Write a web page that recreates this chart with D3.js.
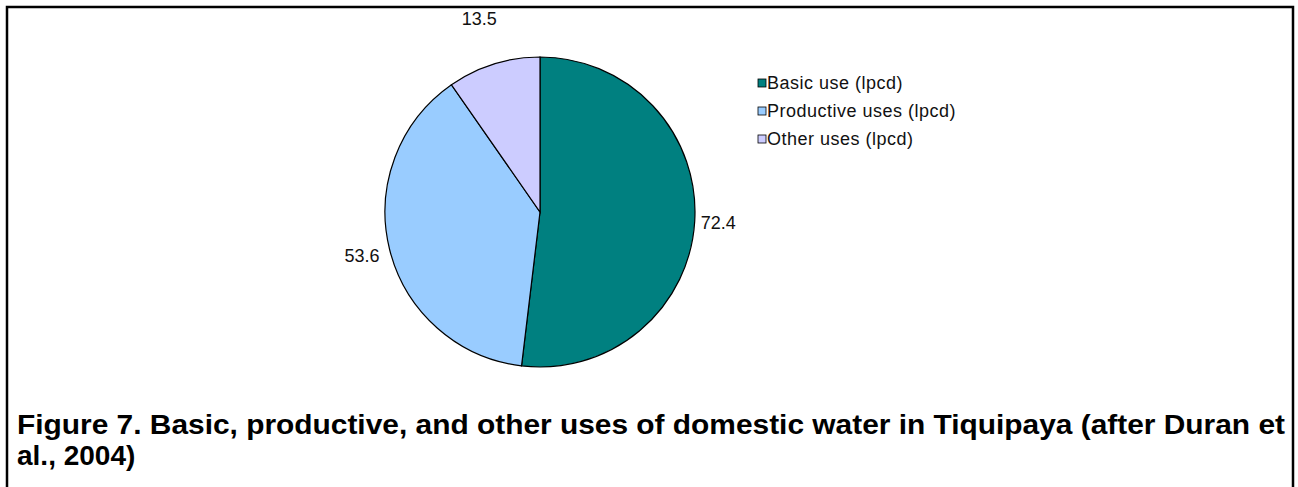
<!DOCTYPE html>
<html lang="en">
<head>
<meta charset="UTF-8">
<title>Figure 7 | Tiquipaya water uses</title>
<style>
  body { margin: 0; background: #fff; font-family: 'Liberation Sans', Arial, sans-serif; }
  svg { display: block; }
</style>
</head>
<body>
<div id="chart"></div>
<script src="https://cdn.jsdelivr.net/npm/d3@7"></script>
<script>
// data
var categories = ['Basic use (lpcd)', 'Productive uses (lpcd)', 'Other uses (lpcd)'];
var values = [72.4, 53.6, 13.5];
var colors = ['#008080', '#99ccff', '#ccccff'];
var captionLines = [
  'Figure 7. Basic, productive, and other uses of domestic water in Tiquipaya (after Duran et',
  'al., 2004)'
];

var w = 1298, h = 487;
var cx = 540, cy = 212, r = 155;

var svg = d3.select('#chart').append('svg').attr('width', w).attr('height', h);

// outer frame (open at the bottom, like the page crop)
svg.append('path')
  .attr('d', 'M7,' + (h + 2) + ' V7 H1293 V' + (h + 2))
  .style('fill', 'none').style('stroke', '#000').style('stroke-width', 2.5);

var slices = categories.map(function (c, i) { return { name: c, value: values[i], color: colors[i] }; });

var pie = d3.pie().sort(null).value(function (d) { return d.value; });
var arc = d3.arc().innerRadius(0).outerRadius(r);

var g = svg.append('g').attr('transform', 'translate(' + cx + ',' + cy + ')');

g.selectAll('path.slice')
  .data(pie(slices))
  .enter().append('path')
  .attr('class', 'slice')
  .attr('d', arc)
  .style('fill', function (d) { return d.data.color; })
  .style('stroke', '#000')
  .style('stroke-width', 1.2);

// labels sit outside the rim, pushed further out near top/bottom for the text height
function labelPos(d) {
  var a = (d.startAngle + d.endAngle) / 2;
  var rr = r + 22 + 27 * Math.abs(Math.cos(a));
  return [rr * Math.sin(a), -rr * Math.cos(a)];
}

g.selectAll('text.lbl')
  .data(pie(slices))
  .enter().append('text')
  .attr('class', 'lbl')
  .attr('transform', function (d) { return 'translate(' + labelPos(d) + ')'; })
  .attr('text-anchor', 'middle')
  .attr('dominant-baseline', 'central')
  .style('font-size', '18px')
  .style('fill', '#111')
  .text(function (d) { return d.data.value; });

// legend
var legend = svg.append('g').attr('transform', 'translate(758,83)');
var item = legend.selectAll('g.item')
  .data(slices)
  .enter().append('g')
  .attr('class', 'item')
  .attr('transform', function (d, i) { return 'translate(0,' + (i * 28) + ')'; });

item.append('rect')
  .attr('x', 0).attr('y', -4).attr('width', 8).attr('height', 8)
  .style('fill', function (d) { return d.color; })
  .style('stroke', '#000').style('stroke-width', 0.8);

item.append('text')
  .attr('x', 9).attr('y', 0)
  .attr('dominant-baseline', 'central')
  .style('font-size', '18px')
  .style('letter-spacing', '0.5px')
  .style('fill', '#111')
  .text(function (d) { return d.name; });

// caption
svg.selectAll('text.caption')
  .data(captionLines)
  .enter().append('text')
  .attr('class', 'caption')
  .attr('x', 17)
  .attr('y', function (d, i) { return 434 + i * 31; })
  .attr('textLength', function (d, i) { return i === 0 ? 1268 : null; })
  .attr('lengthAdjust', 'spacingAndGlyphs')
  .style('font-size', '28px')
  .style('font-weight', 'bold')
  .style('fill', '#000')
  .text(function (d) { return d; });
</script>
</body>
</html>
